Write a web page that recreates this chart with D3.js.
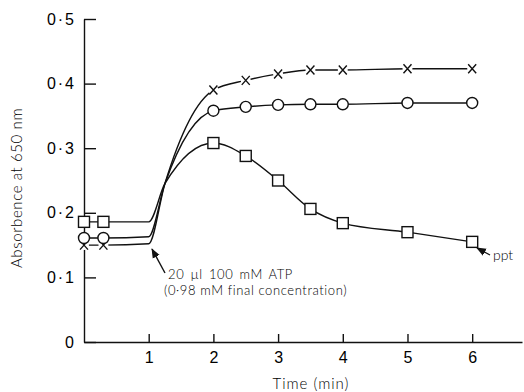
<!DOCTYPE html>
<html>
<head>
<meta charset="utf-8">
<script src="https://cdn.jsdelivr.net/npm/d3@7"></script>
<style>
  body { margin: 0; background: #fff; }
  svg { display: block; font-family: Lato, "Open Sans", sans-serif; font-weight: 300; fill: #000; }
  .axis path, .axis line { stroke: #111; stroke-width: 1.4; }
  .axis text { fill: #000; font-size: 16px; font-weight: 300; }
  .y.axis text { letter-spacing: 2px; }
</style>
</head>
<body>
<div id="chart"></div>
<script>
// line vertices (min); markers only at markedTimes
const times = [0, 0.3, 1, 1.25, 2, 2.5, 3, 3.5, 4, 5, 6];
const markedTimes = [0, 0.3, 2, 2.5, 3, 3.5, 4, 5, 6];
const crossVals  = [0.150, 0.150, 0.152, 0.245, 0.390, 0.405, 0.415, 0.421, 0.421, 0.423, 0.423];
const circleVals = [0.161, 0.161, 0.163, 0.245, 0.358, 0.364, 0.367, 0.368, 0.368, 0.370, 0.370];
const squareVals = [0.186, 0.186, 0.186, 0.245, 0.308, 0.288, 0.250, 0.206, 0.184, 0.170, 0.155];
const xTicks = [1, 2, 3, 4, 5, 6];
const yTicks = [0, 0.1, 0.2, 0.3, 0.4, 0.5];
const yTickLabels = ["0", "0·1", "0·2", "0·3", "0·4", "0·5"];

const width = 524, height = 392;
const svg = d3.select("#chart").append("svg")
    .attr("width", width)
    .attr("height", height);

const x = d3.scaleLinear().domain([0, 6.77]).range([84, 522]);
const y = d3.scaleLinear().domain([0, 0.5]).range([342, 19]);

const xAxis = d3.axisBottom(x)
    .tickValues(xTicks)
    .tickSizeInner(-8)
    .tickSizeOuter(0)
    .tickPadding(10)
    .tickFormat(d3.format("d"));

const yAxis = d3.axisLeft(y)
    .tickValues(yTicks)
    .tickSizeInner(-12)
    .tickSizeOuter(0)
    .tickPadding(8)
    .tickFormat((d, i) => yTickLabels[i]);

svg.append("g")
    .attr("class", "x axis")
    .attr("transform", "translate(0," + y(0) + ")")
    .call(xAxis);

svg.append("g")
    .attr("class", "y axis")
    .attr("transform", "translate(" + x(0) + ",0)")
    .call(yAxis);

svg.append("text")
    .attr("x", 311)
    .attr("y", 389)
    .attr("text-anchor", "middle")
    .style("font-size", "15px")
    .style("letter-spacing", "1px")
    .text("Time (min)");

svg.append("text")
    .attr("transform", "translate(22,188) rotate(-90)")
    .attr("text-anchor", "middle")
    .style("font-size", "15px")
    .style("letter-spacing", "0.6px")
    .text("Absorbence at 650 nm");

const line = d3.line()
    .x(d => x(d.t))
    .y(d => y(d.v))
    .curve(d3.curveMonotoneX);

const series = [
    { name: "cross", vals: crossVals },
    { name: "circle", vals: circleVals },
    { name: "square", vals: squareVals }
];

series.forEach(s => {
    const pts = times.map((t, i) => ({ t: t, v: s.vals[i] }));
    s.pts = pts;
    svg.append("path")
        .datum(pts)
        .attr("fill", "none")
        .attr("stroke", "#111")
        .attr("stroke-width", 1.4)
        .attr("d", line);
});

series.forEach(s => {
    const marks = s.pts.filter(p => markedTimes.includes(p.t));
    const g = svg.append("g").selectAll("g")
        .data(marks)
        .enter().append("g")
        .attr("transform", d => "translate(" + x(d.t) + "," + y(d.v) + ")");
    if (s.name === "square") {
        g.append("rect")
            .attr("x", -5.5).attr("y", -5.5)
            .attr("width", 11).attr("height", 11)
            .attr("fill", "#fff").attr("stroke", "#111").attr("stroke-width", 1.4);
    } else if (s.name === "circle") {
        g.append("circle")
            .attr("r", 5.5)
            .attr("fill", "#fff").attr("stroke", "#111").attr("stroke-width", 1.4);
    } else {
        g.append("circle").attr("r", 5).attr("fill", "#fff");
        g.append("path")
            .attr("d", "M-4,-4.5L4,4.5M4,-4.5L-4,4.5")
            .attr("stroke", "#111").attr("stroke-width", 1.4);
    }
});

// annotations
const defs = svg.append("defs");
defs.append("marker")
    .attr("id", "head")
    .attr("viewBox", "0 0 10 10")
    .attr("refX", 9).attr("refY", 5)
    .attr("markerWidth", 7).attr("markerHeight", 7)
    .attr("orient", "auto")
    .append("path")
    .attr("d", "M0,1L10,5L0,9Z")
    .attr("fill", "#111");

svg.append("line")
    .attr("x1", 165).attr("y1", 273)
    .attr("x2", 152).attr("y2", 249)
    .attr("stroke", "#111").attr("stroke-width", 1.4)
    .attr("marker-end", "url(#head)");

svg.append("text")
    .attr("x", 168).attr("y", 279)
    .style("font-size", "13px")
    .style("letter-spacing", "0.6px")
    .style("word-spacing", "2px")
    .text("20 µl 100 mM ATP");

svg.append("text")
    .attr("x", 164).attr("y", 295)
    .style("font-size", "13px")
    .style("letter-spacing", "0.6px")
    .text("(0·98 mM final concentration)");

svg.append("line")
    .attr("x1", 490).attr("y1", 255)
    .attr("x2", 477).attr("y2", 248)
    .attr("stroke", "#111").attr("stroke-width", 1.4)
    .attr("marker-end", "url(#head)");

svg.append("text")
    .attr("x", 493).attr("y", 260)
    .style("font-size", "14px")
    .text("ppt");
</script>
</body>
</html>
